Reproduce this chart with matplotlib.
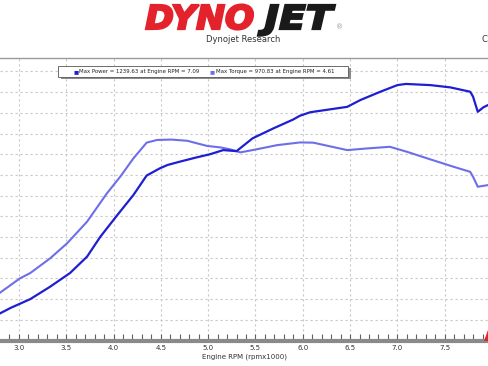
import matplotlib
matplotlib.use("Agg")
import matplotlib.pyplot as plt
from matplotlib.patches import Rectangle, Polygon, PathPatch
from matplotlib.textpath import TextPath
from matplotlib.font_manager import FontProperties
from matplotlib.transforms import Affine2D, IdentityTransform
import numpy as np

# ---- data ----
rpm_power = [2.80, 2.91, 3.12, 3.33, 3.54, 3.72, 3.86, 4.04, 4.21, 4.35, 4.49, 4.57,
             4.70, 4.88, 5.02, 5.16, 5.30, 5.47, 5.69, 5.90, 5.97, 6.08, 6.29, 6.47,
             6.61, 6.82, 7.00, 7.09, 7.35, 7.56, 7.77, 7.80, 7.85, 7.91, 7.96]
power = [131, 157, 200, 260, 326, 405, 501, 606, 703, 797, 832, 848,
         864, 885, 900, 920, 915, 977, 1025, 1068, 1086, 1103, 1117, 1129,
         1162, 1202, 1234, 1239.63, 1234, 1223, 1202, 1178, 1105, 1127, 1138]

rpm_torque = [2.80, 3.01, 3.12, 3.33, 3.51, 3.72, 3.93, 4.07, 4.21, 4.35, 4.46, 4.61,
              4.78, 4.88, 4.99, 5.13, 5.23, 5.34, 5.47, 5.73, 5.97, 6.11, 6.47, 6.68,
              6.92, 7.10, 7.35, 7.59, 7.77, 7.80, 7.85, 7.96]
torque = [231, 300, 326, 397, 470, 574, 711, 791, 880, 956, 969, 970.83,
          965, 953, 940, 933, 924, 909, 920, 944, 957, 956, 920, 928,
          936, 912, 875, 840, 815, 791, 743, 751]

x_major = [3.0, 3.5, 4.0, 4.5, 5.0, 5.5, 6.0, 6.5, 7.0, 7.5]
x_labels = ["3.0", "3.5", "4.0", "4.5", "5.0", "5.5", "6.0", "6.5", "7.0", "7.5"]
y_grid = [100, 200, 300, 400, 500, 600, 700, 800, 900, 1000, 1100, 1200, 1300]

POWER_C = "#1e1ed2"
TORQUE_C = "#6e6eea"

W, H = 488, 366
fig = plt.figure(figsize=(W / 100, H / 100), dpi=100)
fig.patch.set_facecolor("white")

def fx(px):
    return px / W

def fy(py):
    return 1 - py / H

ax_bottom_px, ax_top_px = 340.5, 58
ax = fig.add_axes([0, fy(ax_bottom_px), 1, (ax_bottom_px - ax_top_px) / H])
ax.set_xlim(2.80, 7.958)
ax.set_ylim(0, 1365)

# grid
for x in x_major:
    ax.axvline(x, color="#c8c8c8", lw=0.8, ls=(0, (2, 2.5)), zorder=0)
for y in y_grid:
    ax.axhline(y, color="#c8c8c8", lw=0.8, ls=(0, (2, 2.5)), zorder=0)

ax.plot(rpm_torque, torque, color=TORQUE_C, lw=1.5, zorder=3, solid_joinstyle="round")
ax.plot(rpm_power, power, color=POWER_C, lw=1.6, zorder=4, solid_joinstyle="round")

for s in ["left", "right"]:
    ax.spines[s].set_visible(False)
ax.spines["top"].set_color("#9a9a9a")
ax.spines["top"].set_linewidth(1.0)
ax.spines["bottom"].set_color("#8a8a8a")
ax.spines["bottom"].set_linewidth(3.0)

ax.set_yticks([])
ax.set_xticks(x_major)
ax.set_xticklabels(x_labels)
ax.set_xticks(np.arange(2.9, 7.96, 0.1), minor=True)
ax.tick_params(axis="x", which="both", direction="in", length=5, width=0.8,
               color="#606060", labelsize=5, labelcolor="#333333", pad=3)
ax.tick_params(axis="x", which="minor", labelbottom=False)
ax.set_xlabel("Engine RPM (rpmx1000)", fontsize=5, color="#333333", labelpad=2)

# legend box (manual, like the dyno software)
pi = int(np.argmax(power))
ti = int(np.argmax(torque))
bx0, bx1, by0, by1 = 58, 348, 66, 77
fig.patches.append(Rectangle((fx(bx0 + 3), fy(by1 + 2)), fx(bx1 - bx0), (by1 - by0) / H,
                             transform=fig.transFigure, facecolor="#8c8c8c",
                             edgecolor="none", zorder=5))
fig.patches.append(Rectangle((fx(bx0), fy(by1)), fx(bx1 - bx0), (by1 - by0) / H,
                             transform=fig.transFigure, facecolor="white",
                             edgecolor="#555555", lw=0.6, zorder=6))
ty = fy(71.5)
fs_leg = 3.9
fig.text(fx(73), ty, "■", color=POWER_C, fontsize=fs_leg, va="center", zorder=7)
fig.text(fx(79), ty, f"Max Power = {power[pi]:.2f} at Engine RPM = {rpm_power[pi]:.2f}",
         fontsize=fs_leg, color="#222222", va="center", zorder=7)
fig.text(fx(210), ty, "■", color=TORQUE_C, fontsize=fs_leg, va="center", zorder=7)
fig.text(fx(216), ty, f"Max Torque = {torque[ti]:.2f} at Engine RPM = {rpm_torque[ti]:.2f}",
         fontsize=fs_leg, color="#222222", va="center", zorder=7)

# header logo drawn as scaled text paths (fit into the logo's pixel box)
fp = FontProperties(family="DejaVu Sans", weight="bold", style="italic")
cap_h = TextPath((0, 0), "H", size=40, prop=fp).get_extents().y1

def logo_word(word, x0, x1, ytop, ybot, color):
    tp = TextPath((0, 0), word, size=40, prop=fp)
    ext = tp.get_extents()
    sx = (x1 - x0) / ext.width
    sy = (ybot - ytop) / cap_h
    tr = Affine2D().translate(-ext.x0, 0).scale(sx, sy).translate(x0, H - ybot)
    patch = PathPatch(tr.transform_path(tp), facecolor=color, edgecolor=color,
                      lw=1.6, joinstyle="miter", transform=IdentityTransform())
    fig.patches.append(patch)

logo_word("DYNO", 146, 253, 5, 29, "#e3222b")
logo_word("JET", 258, 335, 5, 29, "#1a1a1a")
fig.text(fx(340), fy(29), "®", color="#999999", fontsize=5, ha="center", va="baseline")
fig.text(fx(243), fy(40), "Dynojet Research", color="#333333", fontsize=6,
         ha="center", va="center")
fig.text(fx(487), fy(40), "C", color="#333333", fontsize=6,
         ha="right", va="center")

# red corner decoration
fig.patches.append(Polygon([(fx(484), fy(341)), (fx(488), fy(330)), (fx(488), fy(341))],
                           closed=True, transform=fig.transFigure,
                           facecolor="#e3222b", edgecolor="none", zorder=8))

fig.savefig("out.png", dpi=100)
